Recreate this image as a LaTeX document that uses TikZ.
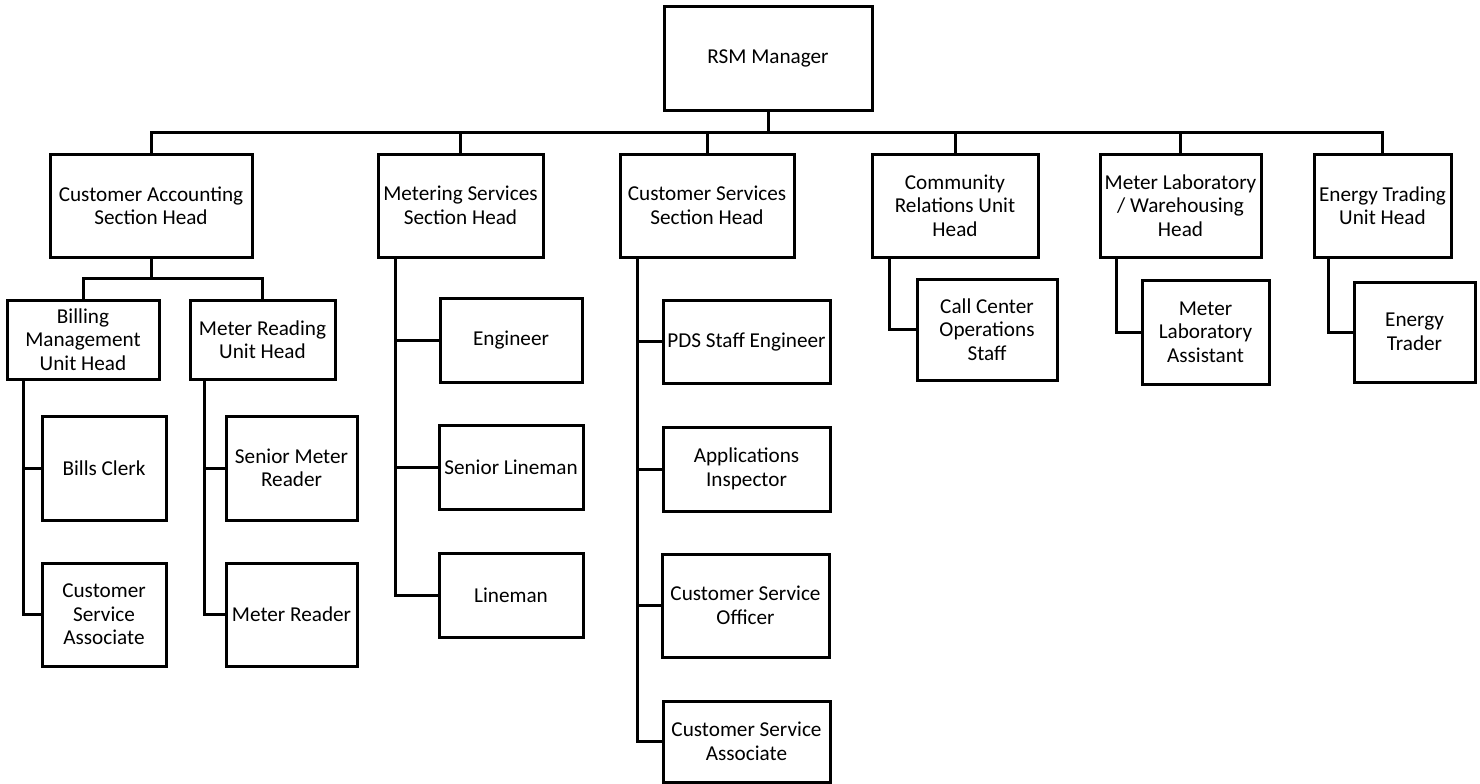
\documentclass[tikz,border=0pt]{standalone}
\usepackage{fontspec}
\setmainfont{Carlito}
\begin{document}
\begin{tikzpicture}[x=1pt,y=-1pt,
  box/.style={draw=black, line width=3pt, align=center, inner sep=0pt,
    font=\fontsize{21.2pt}{23.5pt}\selectfont},
  link/.style={draw=black, line width=3pt, line join=miter}]
\useasboundingbox (0,0) rectangle (1480,784);

% top level
\node[box, minimum width=208, minimum height=103] (rsm) at (768,58.5) {RSM Manager};

% section / unit heads
\node[box, minimum width=202, minimum height=103] (ca) at (151,205.5) {Customer Accounting\\Section Head};
\node[box, minimum width=165, minimum height=103] (ms) at (460.5,205.5) {Metering Services\\Section Head};
\node[box, minimum width=174, minimum height=103] (cs) at (707,205.5) {Customer Services\\Section Head};
\node[box, minimum width=166, minimum height=103] (cr) at (955,205.5) {Community\\Relations Unit\\Head};
\node[box, minimum width=161, minimum height=103] (ml) at (1180.5,205.5) {Meter Laboratory\\/ Warehousing\\Head};
\node[box, minimum width=137, minimum height=103] (et) at (1382.5,205.5) {Energy Trading\\Unit Head};

% customer accounting units
\node[box, minimum width=152, minimum height=79] (bm) at (83,339.5) {Billing\\Management\\Unit Head};
\node[box, minimum width=145, minimum height=79] (mr) at (262.5,339.5) {Meter Reading\\Unit Head};
\node[box, minimum width=124, minimum height=104] (bc) at (104,468) {Bills Clerk};
\node[box, minimum width=124, minimum height=103] (csa1) at (104,614.5) {Customer\\Service\\Associate};
\node[box, minimum width=131, minimum height=104] (smr) at (291.5,468) {Senior Meter\\Reader};
\node[box, minimum width=131, minimum height=103] (mrd) at (291.5,614.5) {Meter Reader};

% metering services staff
\node[box, minimum width=142, minimum height=84] (eng) at (511,340) {Engineer};
\node[box, minimum width=144, minimum height=84] (sl) at (511,467) {Senior Lineman};
\node[box, minimum width=144, minimum height=84] (ln) at (511,595) {Lineman};

% customer services staff
\node[box, minimum width=167, minimum height=83] (pds) at (746.5,341.5) {PDS Staff Engineer};
\node[box, minimum width=167, minimum height=84] (ai) at (746.5,469) {Applications\\Inspector};
\node[box, minimum width=167, minimum height=103] (cso) at (745.5,605.5) {Customer Service\\Officer};
\node[box, minimum width=167, minimum height=81] (csa2) at (746.5,741.5) {Customer Service\\Associate};

% other units' staff
\node[box, minimum width=140, minimum height=101] (cc) at (987,329.5) {Call Center\\Operations\\Staff};
\node[box, minimum width=127, minimum height=104] (mla) at (1205.5,332) {Meter\\Laboratory\\Assistant};
\node[box, minimum width=121, minimum height=100] (etr) at (1414.5,332) {Energy\\Trader};

% bus lines and side rails
\coordinate (bus) at (0,132);
\coordinate (sub) at (0,278);
\coordinate (bmrail) at (23,0);
\coordinate (mrrail) at (204,0);
\coordinate (msrail) at (395,0);
\coordinate (csrail) at (637,0);
\coordinate (crrail) at (889,0);
\coordinate (mlrail) at (1116,0);
\coordinate (etrail) at (1328,0);

% manager to section heads
\draw[link] (rsm.south) -- (rsm.south |- bus);
\draw[link] (ca.north) -- (ca.north |- bus) -| (et.north);
\foreach \n in {ms,cs,cr,ml}
  \draw[link] (\n.north) -- (\n.north |- bus);

% customer accounting to its units
\draw[link] (ca.south) -- (ca.south |- sub);
\draw[link] (bm.north) -- (bm.north |- sub) -| (mr.north);

% side rails to staff
\draw[link] (bmrail |- bm.south) |- (bc.west);
\draw[link] (bmrail |- bm.south) |- (csa1.west);
\draw[link] (mrrail |- mr.south) |- (smr.west);
\draw[link] (mrrail |- mr.south) |- (mrd.west);
\draw[link] (msrail |- ms.south) |- (eng.west);
\draw[link] (msrail |- ms.south) |- (sl.west);
\draw[link] (msrail |- ms.south) |- (ln.west);
\draw[link] (csrail |- cs.south) |- (pds.west);
\draw[link] (csrail |- cs.south) |- (ai.west);
\draw[link] (csrail |- cs.south) |- (cso.west);
\draw[link] (csrail |- cs.south) |- (csa2.west);
\draw[link] (crrail |- cr.south) |- (cc.west);
\draw[link] (mlrail |- ml.south) |- (mla.west);
\draw[link] (etrail |- et.south) |- (etr.west);
\end{tikzpicture}
\end{document}
